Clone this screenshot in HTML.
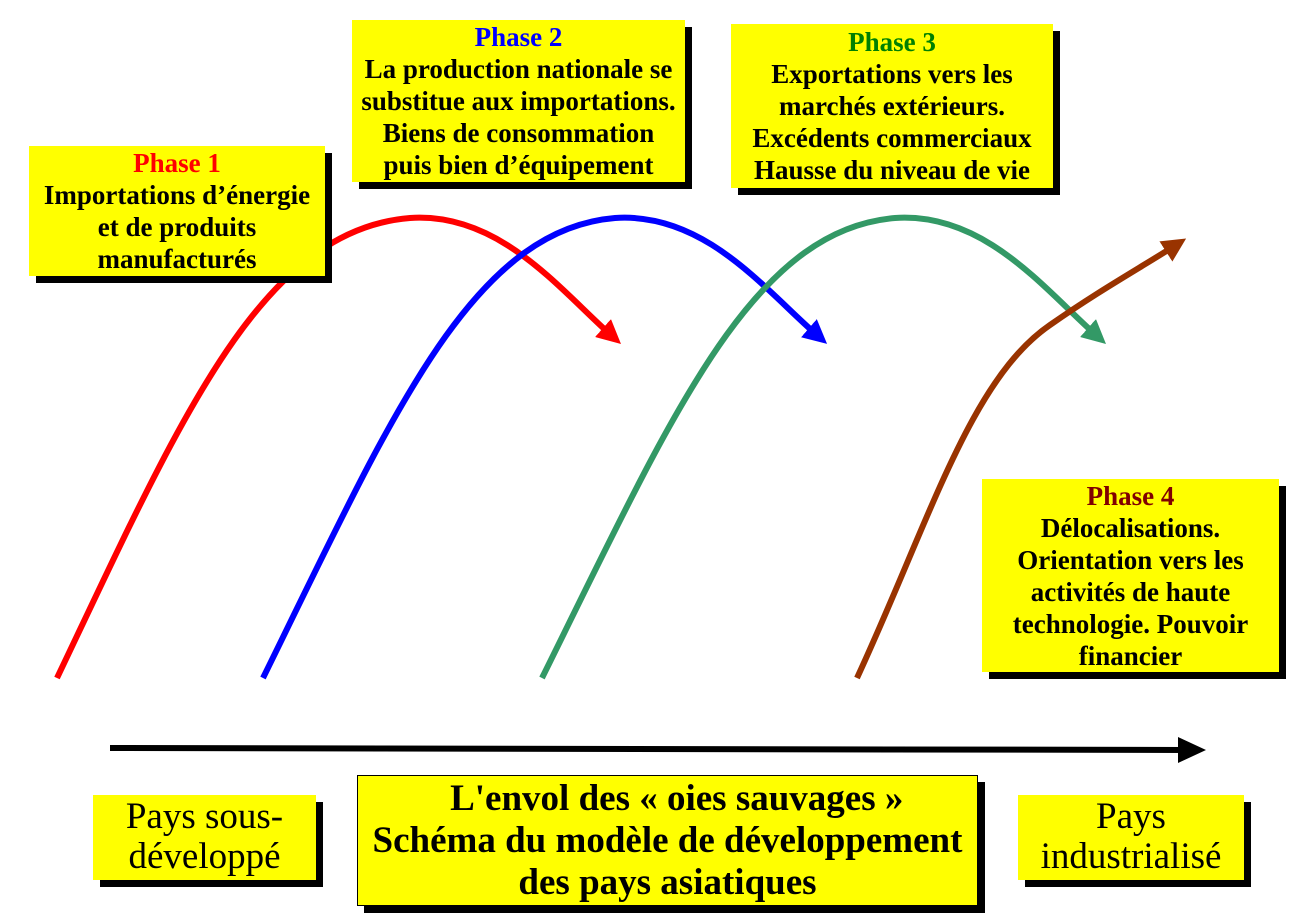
<!DOCTYPE html>
<html><head><meta charset="utf-8"><style>
body{margin:0;width:1298px;height:924px;background:#fff;position:relative;overflow:hidden;font-family:"Liberation Serif",serif}
.b{position:absolute;background:#ff0;box-shadow:7px 7px 0 #000;text-align:center;font-weight:bold;font-size:27px;line-height:32px;color:#000;box-sizing:border-box;white-space:nowrap}
.n{font-weight:normal;font-size:37px;line-height:40px}
</style></head><body>
<svg width="1298" height="924" style="position:absolute;left:0;top:0">
<defs>
<marker id="mr" markerWidth="4" markerHeight="4" refX="2" refY="2" orient="auto" markerUnits="strokeWidth"><path d="M0,0 L4,2 L0,4 z" fill="#f00"/></marker>
<marker id="mb" markerWidth="4" markerHeight="4" refX="2" refY="2" orient="auto" markerUnits="strokeWidth"><path d="M0,0 L4,2 L0,4 z" fill="#00f"/></marker>
<marker id="mg" markerWidth="4" markerHeight="4" refX="2" refY="2" orient="auto" markerUnits="strokeWidth"><path d="M0,0 L4,2 L0,4 z" fill="#339966"/></marker>
<marker id="mo" markerWidth="4" markerHeight="4" refX="2" refY="2" orient="auto" markerUnits="strokeWidth"><path d="M0,0 L4,2 L0,4 z" fill="#993300"/></marker>
</defs>
<g fill="none" stroke-width="6">
<path d="M57,678 C180,420 260,230 410,218 C500,212 560,290 612,336" stroke="#f00" marker-end="url(#mr)"/>
<path d="M263,678 C390,420 470,230 615,218 C705,212 765,290 818,336" stroke="#00f" marker-end="url(#mb)"/>
<path d="M542,678 C670,420 750,230 895,218 C985,212 1045,290 1097,336" stroke="#339966" marker-end="url(#mg)"/>
<path d="M857,678 C930,520 970,380 1050,325 C1100,290 1140,268 1176,245" stroke="#993300" marker-end="url(#mo)"/>
<line x1="110" y1="748" x2="1185" y2="750" stroke="#000"/>
</g>
<path d="M1178,737 L1206,750 L1178,763 z" fill="#000"/>
</svg>
<div class="b" style="left:29px;top:146px;width:296px;height:130px;padding-top:1px"><span style="color:#f00">Phase 1</span><br>Importations d’énergie<br>et de produits<br>manufacturés</div>
<div class="b" style="left:352px;top:20px;width:333px;height:162px;padding-top:1px"><span style="color:#00f">Phase 2</span><br>La production nationale se<br>substitue aux importations.<br>Biens de consommation<br>puis bien d’équipement</div>
<div class="b" style="left:731px;top:24px;width:322px;height:164px;padding-top:2px"><span style="color:#008000">Phase 3</span><br>Exportations vers les<br>marchés extérieurs.<br>Excédents commerciaux<br>Hausse du niveau de vie</div>
<div class="b" style="left:982px;top:479px;width:297px;height:193px;padding-top:1px"><span style="color:#800000">Phase 4</span><br>Délocalisations.<br>Orientation vers les<br>activités de haute<br>technologie. Pouvoir<br>financier</div>
<div class="b n" style="left:93px;top:795px;width:223px;height:85px;padding-top:2px">Pays sous-<br>développé</div>
<div class="b n" style="left:1018px;top:795px;width:226px;height:85px;padding-top:2px">Pays<br>industrialisé</div>
<div class="b" style="left:357px;top:775px;width:621px;height:131px;border:1px solid #000;font-size:37px;line-height:42px;padding-top:2px">&nbsp;&nbsp;L'envol des « oies sauvages »<br>Schéma du modèle de développement<br>des pays asiatiques</div>
</body></html>
